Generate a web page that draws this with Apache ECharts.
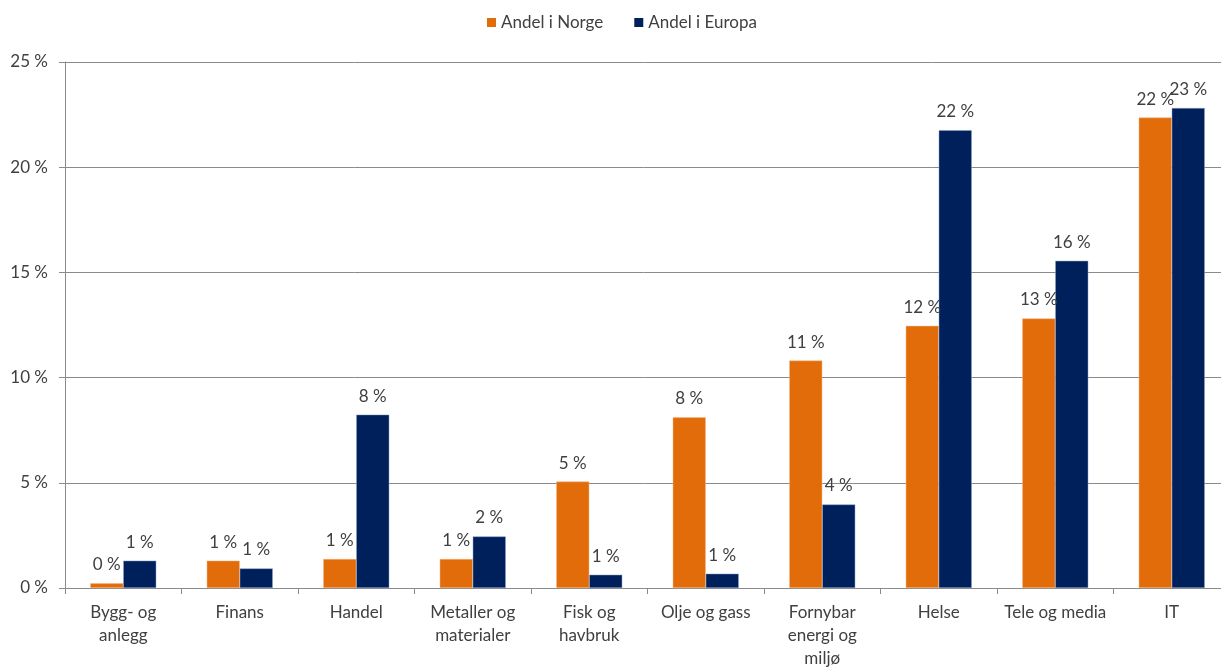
<!DOCTYPE html>
<html>
<head>
<meta charset="utf-8">
<script src="https://cdn.jsdelivr.net/npm/echarts@6/dist/echarts.min.js"></script>
<style>
  html, body { margin: 0; padding: 0; background: #ffffff; }
  #chart { width: 1221px; height: 668px; }
</style>
</head>
<body>
<div id="chart"></div>
<script>
// Sector categories (line breaks as shown under the axis)
const categories = [
  'Bygg- og\nanlegg',
  'Finans',
  'Handel',
  'Metaller og\nmaterialer',
  'Fisk og\nhavbruk',
  'Olje og gass',
  'Fornybar\nenergi og\nmiljø',
  'Helse',
  'Tele og media',
  'IT'
];

// Share per sector, in percent
const andelNorge  = [0.22, 1.3, 1.38, 1.38, 5.06, 8.11, 10.81, 12.46, 12.81, 22.36];
const andelEuropa = [1.3, 0.93, 8.24, 2.45, 0.63, 0.68, 3.97, 21.76, 15.55, 22.81];

const seriesNames = ['Andel i Norge', 'Andel i Europa'];
const yTicks = { min: 0, max: 25, interval: 5 };

const FONT = 'Lato, "Open Sans", sans-serif';
const FS = 17;
const TEXT = '#404040';
const LINE = '#8a8a8a';

const pctLabel = {
  show: true,
  position: 'top',
  distance: 10,
  fontFamily: FONT,
  fontSize: FS,
  color: TEXT,
  formatter: p => Math.round(p.value) + ' %'
};

const chart = echarts.init(document.getElementById('chart'), null, { renderer: 'canvas' });

chart.setOption({
  animation: false,
  backgroundColor: '#ffffff',
  color: ['#E36C0A', '#00205B'],
  legend: {
    top: 9,
    left: 482,
    itemWidth: 9,
    itemHeight: 9,
    itemGap: 31,
    icon: 'rect',
    itemStyle: { borderWidth: 0 },
    textStyle: { fontFamily: FONT, fontSize: FS, color: TEXT },
    data: seriesNames
  },
  grid: {
    left: 65, top: 62, width: 1165, bottom: 80,
    containLabel: false,
    outerBoundsMode: 'none'
  },
  xAxis: {
    type: 'category',
    data: categories,
    axisLine: { lineStyle: { color: LINE, width: 1 } },
    axisTick: { show: true, length: 6, lineStyle: { color: LINE } },
    axisLabel: {
      interval: 0,
      margin: 13,
      fontFamily: FONT,
      fontSize: FS,
      lineHeight: 23,
      color: TEXT
    }
  },
  yAxis: {
    type: 'value',
    min: yTicks.min,
    max: yTicks.max,
    interval: yTicks.interval,
    axisLine: { show: true, lineStyle: { color: LINE, width: 1 } },
    axisTick: { show: true, inside: false, length: 6, lineStyle: { color: LINE } },
    splitLine: { show: true, lineStyle: { color: LINE, width: 1 } },
    axisLabel: {
      margin: 17,
      fontFamily: FONT,
      fontSize: FS,
      color: TEXT,
      formatter: v => v + ' %'
    }
  },
  series: [
    {
      name: seriesNames[0],
      type: 'bar',
      data: andelNorge,
      barWidth: 33,
      barGap: '0%',
      label: pctLabel,
      itemStyle: { borderColor: '#f2b98a', borderWidth: 0.5 }
    },
    {
      name: seriesNames[1],
      type: 'bar',
      data: andelEuropa,
      barWidth: 33,
      barGap: '0%',
      label: pctLabel,
      itemStyle: { borderColor: '#8fa3c8', borderWidth: 0.5 }
    }
  ]
});
</script>
</body>
</html>
